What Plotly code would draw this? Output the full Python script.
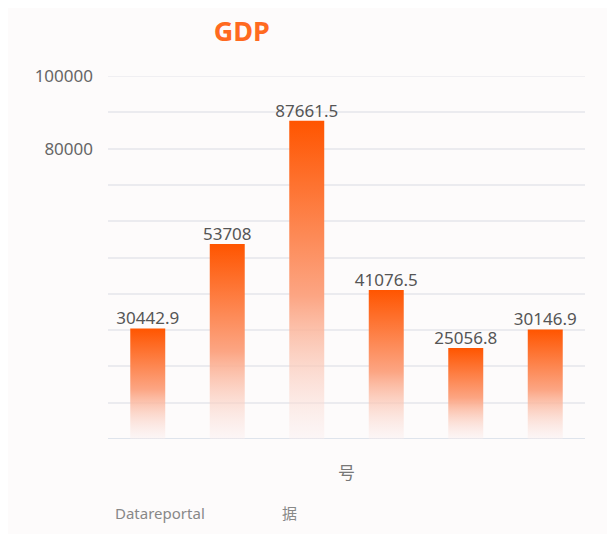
import plotly.graph_objects as go

# ---- data ----
categories = ["1", "2", "3", "4", "5", "6"]
gdp_values = [30442.9, 53708, 87661.5, 41076.5, 25056.8, 30146.9]
value_labels = ["30442.9", "53708", "87661.5", "41076.5", "25056.8", "30146.9"]
y_tick_values = [100000, 80000]
y_tick_labels = ["100000", "80000"]
y_max = 100000
chart_title = "GDP"
x_axis_title = "号"
source_left = "Datareportal"
source_right = "据"

FONT = "Noto Sans, Noto Sans CJK SC, DejaVu Sans, sans-serif"
half_w = 0.22
gradient = [[0.0, "rgba(250,236,236,0.35)"], [0.45, "#fca583"], [1.0, "#ff5500"]]

fig = go.Figure()

for i, v in enumerate(gdp_values):
    fig.add_trace(go.Scatter(
        x=[i - half_w, i + half_w, i + half_w, i - half_w, i - half_w],
        y=[0, 0, v, v, 0],
        mode="lines",
        line=dict(width=0, color="rgba(0,0,0,0)"),
        fill="toself",
        fillgradient=dict(type="vertical", colorscale=gradient, start=0, stop=v),
        hoverinfo="skip",
        showlegend=False,
    ))

fig.add_trace(go.Scatter(
    x=list(range(len(categories))),
    y=gdp_values,
    mode="text",
    text=value_labels,
    textposition="top center",
    textfont=dict(family=FONT, size=17, color="#555555"),
    customdata=categories,
    hovertemplate="%{customdata}: %{y}<extra></extra>",
    showlegend=False,
))

fig.update_layout(
    width=607,
    height=526,
    margin=dict(l=100, r=30, t=68, b=95),
    paper_bgcolor="#fdfbfb",
    plot_bgcolor="#fdfbfb",
    font=dict(family=FONT, color="#555555"),
    title=dict(
        text=chart_title,
        x=0.385, xanchor="center",
        y=0.955, yanchor="middle",
        font=dict(family=FONT, size=27, color="#ff6a1f", weight="bold"),
    ),
    xaxis=dict(
        range=[-0.5, len(categories) - 0.5],
        showticklabels=False,
        showgrid=False,
        zeroline=False,
        showline=False,
        title=dict(text=x_axis_title, font=dict(size=17, color="#777777"), standoff=28),
        fixedrange=True,
    ),
    yaxis=dict(
        range=[0, y_max],
        tickvals=y_tick_values,
        ticktext=y_tick_labels,
        tickfont=dict(family=FONT, size=17, color="#666666"),
        ticklabelstandoff=14,
        showgrid=True,
        gridcolor="#ebebef",
        gridwidth=1.5,
        zeroline=False,
        showline=False,
        minor=dict(dtick=10000, tick0=0, showgrid=True, gridcolor="#ebebef", gridwidth=1.5),
        fixedrange=True,
    ),
    annotations=[
        dict(text=source_left, xref="paper", yref="paper", x=0.01, y=-0.17,
             xanchor="left", yanchor="top", showarrow=False,
             font=dict(family=FONT, size=15, color="#888888")),
        dict(text=source_right, xref="paper", yref="paper", x=0.38, y=-0.17,
             xanchor="center", yanchor="top", showarrow=False,
             font=dict(family=FONT, size=15, color="#888888")),
    ],
    shapes=[
        dict(type="line", xref="paper", yref="y", x0=0, x1=1, y0=0, y1=0,
             line=dict(color="#dfe4ec", width=2), layer="below"),
        dict(type="line", xref="paper", yref="y", x0=0, x1=1, y0=y_max, y1=y_max,
             line=dict(color="#ebebef", width=1.5), layer="below"),
    ],
)

fig.write_html("out.html")
